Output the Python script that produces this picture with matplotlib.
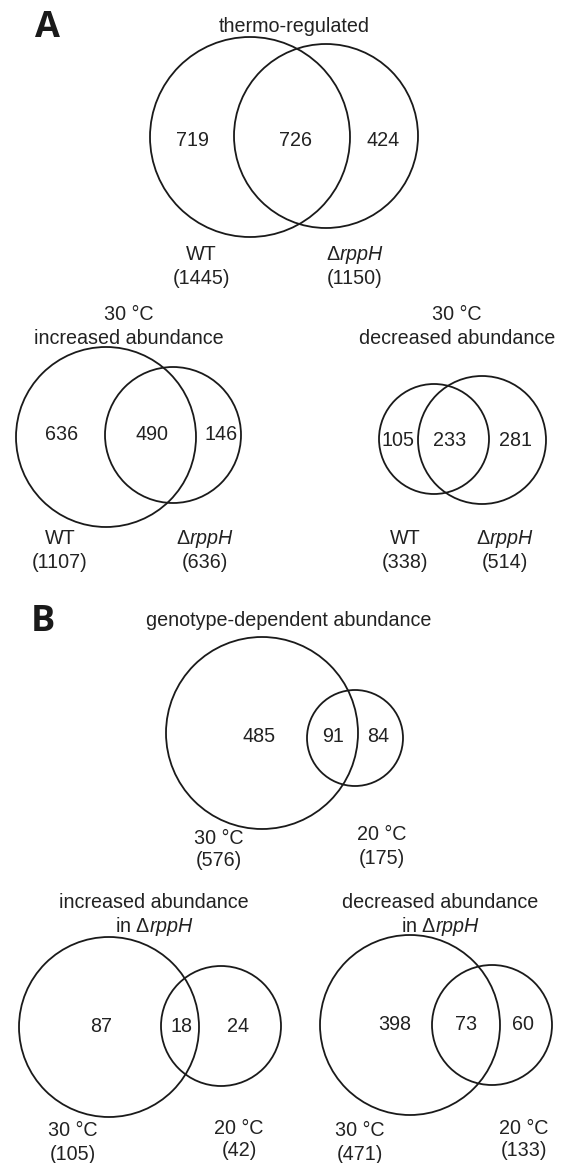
import matplotlib.pyplot as plt
from matplotlib.patches import Circle

plt.rcParams['font.family'] = ['Liberation Sans', 'DejaVu Sans']
plt.rcParams['mathtext.fontset'] = 'custom'
plt.rcParams['mathtext.rm'] = 'Liberation Sans'
plt.rcParams['mathtext.it'] = 'Liberation Sans:italic'

DELTA = r'$\mathrm{Δ}\mathit{rppH}$'

# === Data (one entry per Venn diagram) ===
titles = [
    "thermo-regulated",
    "30 °C\nincreased abundance",
    "30 °C\ndecreased abundance",
    "genotype-dependent abundance",
    "increased abundance\nin " + DELTA,
    "decreased abundance\nin " + DELTA,
]
left_sets = ["WT", "WT", "WT", "30 °C", "30 °C", "30 °C"]
right_sets = [DELTA, DELTA, DELTA, "20 °C", "20 °C", "20 °C"]
left_only = [719, 636, 105, 485, 87, 398]
shared = [726, 490, 233, 91, 18, 73]
right_only = [424, 146, 281, 84, 24, 60]
left_total = [1445, 1107, 338, 576, 105, 471]
right_total = [1150, 636, 514, 175, 42, 133]

# === Layout (pixel coordinates, y pointing down) ===
# circles: (cx1, cy1, r1, cx2, cy2, r2)
circles = [
    (250, 137, 100, 326, 136, 92),
    (106, 437, 90, 173, 435, 68),
    (434, 439, 55, 482, 440, 64),
    (262, 733, 96, 355, 738, 48),
    (109, 1027, 90, 221, 1026, 60),
    (410, 1025, 90, 492, 1025, 60),
]
# number x positions (left, shared, right), number y
num_x = [
    (192, 296, 383), (62, 152, 221), (398, 450, 515),
    (259, 333, 378), (101, 181, 238), (395, 466, 523),
]
num_y = [140, 435, 440, 737, 1027, 1025]
# title center (x, y of first line)
title_pos = [(294, 27), (129, 315), (457, 315), (289, 620), (154, 903), (440, 903)]
# set label positions (x_left, x_right, y_left, y_right)
label_pos = [
    (201, 355, 255, 255), (60, 205, 539, 539), (405, 505, 539, 539),
    (219, 382, 838, 835), (73, 239, 1131, 1128), (360, 524, 1131, 1128),
]

FS = 14.2
LINE = 23
INK = '#222222'

fig = plt.figure(figsize=(5.67, 11.63), dpi=100)
ax = fig.add_axes([0, 0, 1, 1])
ax.set_xlim(0, 567)
ax.set_ylim(1163, 0)
ax.axis('off')

for i in range(len(titles)):
    cx1, cy1, r1, cx2, cy2, r2 = circles[i]
    ax.add_patch(Circle((cx1, cy1), r1, fill=False, ec='#1a1a1a', lw=1.3))
    ax.add_patch(Circle((cx2, cy2), r2, fill=False, ec='#1a1a1a', lw=1.3))

    for x, v in zip(num_x[i], (left_only[i], shared[i], right_only[i])):
        ax.text(x, num_y[i], str(v), fontsize=FS, ha='center', va='center', color=INK)

    tx, ty = title_pos[i]
    for k, line in enumerate(titles[i].split("\n")):
        ax.text(tx, ty + k * LINE, line, fontsize=FS, ha='center', va='center', color=INK)

    xl, xr, yl, yr = label_pos[i]
    ax.text(xl, yl, left_sets[i], fontsize=FS, ha='center', va='center', color=INK)
    ax.text(xl, yl + LINE, f"({left_total[i]})", fontsize=FS, ha='center', va='center', color=INK)
    ax.text(xr, yr, right_sets[i], fontsize=FS, ha='center', va='center', color=INK)
    ax.text(xr, yr + LINE, f"({right_total[i]})", fontsize=FS, ha='center', va='center', color=INK)

# panel letters
ax.text(47, 28, "A", fontsize=26, fontweight='bold', family='Open Sans', ha='center', va='center', color='#1a1a1a')
ax.text(43, 622, "B", fontsize=26, fontweight='bold', family='Open Sans', ha='center', va='center', color='#1a1a1a')

fig.savefig("out.png", dpi=100)
